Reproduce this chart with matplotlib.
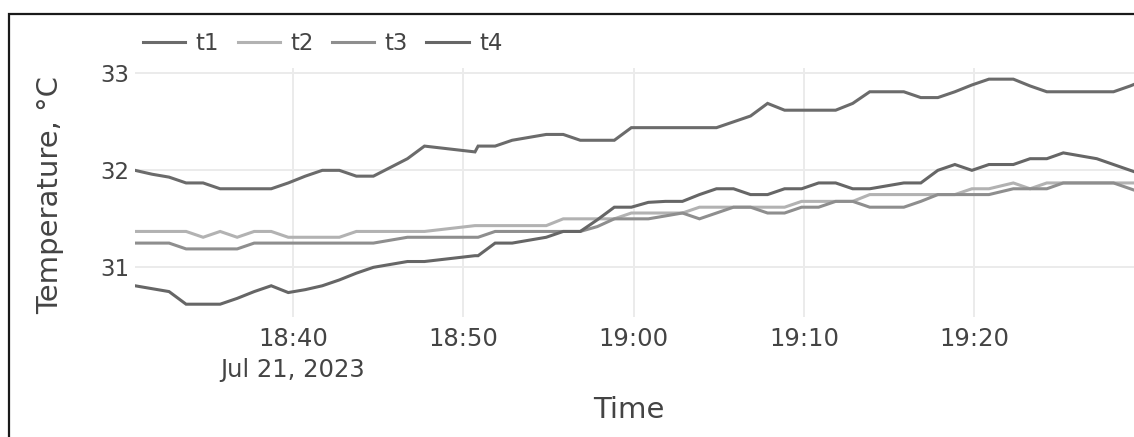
import matplotlib.pyplot as plt
import pandas as pd
from matplotlib.patches import Rectangle

# ================= sensor readings, Jul 21 2023 =======================
day = '2023-07-21 '
times = ['18:30:43', '18:31:43', '18:32:43', '18:33:43', '18:34:43', '18:35:43',
         '18:36:43', '18:37:43', '18:38:43', '18:39:43', '18:40:43', '18:41:43',
         '18:42:43', '18:43:43', '18:44:43', '18:45:43', '18:46:43', '18:47:43',
         '18:50:41', '18:50:52', '18:51:52', '18:52:52', '18:53:52', '18:54:52',
         '18:55:52', '18:56:52', '18:57:52', '18:58:52', '18:59:52', '19:00:52',
         '19:01:52', '19:02:52', '19:03:52', '19:04:52', '19:05:52', '19:06:52',
         '19:07:52', '19:08:52', '19:09:52', '19:10:52', '19:11:52', '19:12:52',
         '19:13:52', '19:14:52', '19:15:52', '19:16:52', '19:17:52', '19:18:52',
         '19:19:52', '19:20:52', '19:22:18', '19:23:17', '19:24:16', '19:25:14',
         '19:26:13', '19:27:12', '19:28:11', '19:29:10', '19:30:09']

t1 = [32.00, 31.96, 31.93, 31.87, 31.87, 31.81, 31.81, 31.81, 31.81, 31.87,
      31.94, 32.00, 32.00, 31.94, 31.94, 32.03, 32.12, 32.25,
      32.19, 32.25, 32.25, 32.31, 32.34, 32.37, 32.37, 32.31, 32.31, 32.31,
      32.44, 32.44, 32.44, 32.44, 32.44, 32.44, 32.50, 32.56, 32.69, 32.62,
      32.62, 32.62, 32.62, 32.69, 32.81, 32.81, 32.81, 32.75, 32.75, 32.81,
      32.88, 32.94,
      32.94, 32.87, 32.81, 32.81, 32.81, 32.81, 32.81, 32.87, 32.94]

t2 = [31.37, 31.37, 31.37, 31.37, 31.31, 31.37, 31.31, 31.37, 31.37, 31.31,
      31.31, 31.31, 31.31, 31.37, 31.37, 31.37, 31.37, 31.37,
      31.43, 31.43, 31.43, 31.43, 31.43, 31.43, 31.50, 31.50, 31.50, 31.50,
      31.56, 31.56, 31.56, 31.56, 31.62, 31.62, 31.62, 31.62, 31.62, 31.62,
      31.68, 31.68, 31.68, 31.68, 31.75, 31.75, 31.75, 31.75, 31.75, 31.75,
      31.81, 31.81,
      31.87, 31.81, 31.87, 31.87, 31.87, 31.87, 31.87, 31.87, 31.87]

t3 = [31.25, 31.25, 31.25, 31.19, 31.19, 31.19, 31.19, 31.25, 31.25, 31.25,
      31.25, 31.25, 31.25, 31.25, 31.25, 31.28, 31.31, 31.31,
      31.31, 31.31, 31.37, 31.37, 31.37, 31.37, 31.37, 31.37, 31.42, 31.50,
      31.50, 31.50, 31.53, 31.56, 31.50, 31.56, 31.62, 31.62, 31.56, 31.56,
      31.62, 31.62, 31.68, 31.68, 31.62, 31.62, 31.62, 31.68, 31.75, 31.75,
      31.75, 31.75,
      31.81, 31.81, 31.81, 31.87, 31.87, 31.87, 31.87, 31.81, 31.75]

t4 = [30.81, 30.78, 30.75, 30.62, 30.62, 30.62, 30.68, 30.75, 30.81, 30.74,
      30.77, 30.81, 30.87, 30.94, 31.00, 31.03, 31.06, 31.06,
      31.12, 31.12, 31.25, 31.25, 31.28, 31.31, 31.37, 31.37, 31.49, 31.62,
      31.62, 31.67, 31.68, 31.68, 31.75, 31.81, 31.81, 31.75, 31.75, 31.81,
      31.81, 31.87, 31.87, 31.81, 31.81, 31.84, 31.87, 31.87, 32.00, 32.06,
      32.00, 32.06,
      32.06, 32.12, 32.12, 32.18, 32.15, 32.12, 32.06, 32.00, 31.94]

labels = ['t1', 't2', 't3', 't4']
colors = ['#6b6b6b', '#b2b2b2', '#8e8e8e', '#666666']

tick_times = ['18:40', '18:50', '19:00', '19:10', '19:20']
tick_labels = ['18:40\nJul 21, 2023', '18:50', '19:00', '19:10', '19:20']
y_ticks = [31, 32, 33]

# =====================================================
x = pd.to_datetime([day + t for t in times])

fig = plt.figure(figsize=(11.34, 4.37), dpi=100)
ax = fig.add_axes([135 / 1134, 120 / 437, 1012 / 1134, 249 / 437])

for series, lab, col in zip([t1, t2, t3, t4], labels, colors):
    ax.plot(x, series, color=col, linewidth=2.2, label=lab, solid_joinstyle='miter')

ax.set_xlim(x[0], x[-1])
ax.set_ylim(30.488, 33.055)

ax.set_xticks(pd.to_datetime([day + t for t in tick_times]))
ax.set_xticklabels(tick_labels, linespacing=1.4)
ax.set_yticks(y_ticks)
ax.tick_params(axis='both', length=0, labelcolor='#444444')
ax.tick_params(axis='x', pad=7, labelsize=17.5)
ax.tick_params(axis='y', pad=4, labelsize=16.5)

ax.grid(True, color='#ebebeb', linewidth=1.4)
ax.set_axisbelow(True)
for s in ax.spines.values():
    s.set_visible(False)

ax.set_xlabel('Time', fontsize=21, color='#444444', va='center')
ax.xaxis.set_label_coords(0.488, -0.373)
ax.set_ylabel('Temperature, °C', fontsize=21, color='#444444', va='center')
ax.yaxis.set_label_coords(-0.084, 0.49)

ax.legend(loc='center left', bbox_to_anchor=(0.008, 1.10), ncol=4, frameon=False,
          fontsize=16.5, handlelength=1.85, handletextpad=0.45, columnspacing=0.8,
          borderpad=0, borderaxespad=0, labelcolor='#444444')

# outer frame
fig.patches.append(Rectangle((9 / 1134, -0.2), 1.2, 1.2 - 14 / 437, fill=False,
                             edgecolor='#1a1a1a', linewidth=1.6,
                             transform=fig.transFigure, figure=fig))

plt.savefig('out.png', dpi=100)
